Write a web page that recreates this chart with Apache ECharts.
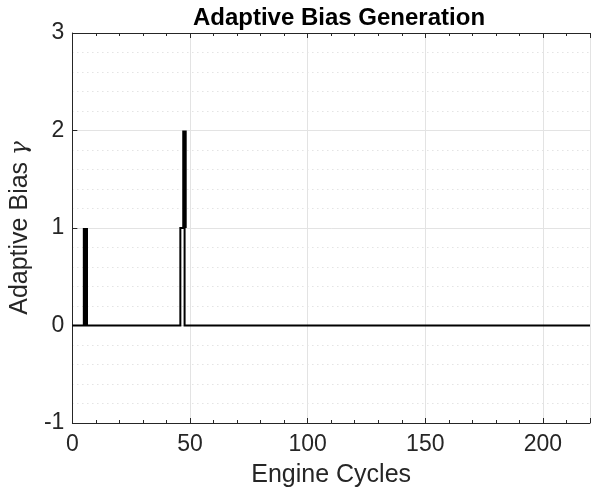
<!DOCTYPE html>
<html>
<head>
<meta charset="utf-8">
<script src="https://cdn.jsdelivr.net/npm/echarts@6/dist/echarts.min.js"></script>
<style>
html,body{margin:0;padding:0;background:#fff;}
#chart{width:593px;height:493px;}
</style>
</head>
<body>
<div id="chart"></div>
<script>
// step outline of the bias signal
var cycles = [0, 45.9, 45.9, 47.7, 47.7, 220];
var bias   = [0, 0,    1,    1,    0,    0];

// regions where bias switches fast (drawn as solid blocks)
var burstStart = [4.45, 46.7];
var burstEnd   = [6.65, 48.6];
var burstLow   = [0, 1];
var burstHigh  = [1, 2];

var xTicks = [0, 50, 100, 150, 200];
var yTicks = [-1, 0, 1, 2, 3];

var font = 'Liberation Sans';
var axisColor = '#262626';

var lineData = cycles.map(function(c, i){ return [c, bias[i]]; });
var burstData = burstStart.map(function(s, i){ return [s, burstEnd[i], burstLow[i], burstHigh[i]]; });

var chart = echarts.init(document.getElementById('chart'));

var option = {
	animation: false,
	backgroundColor: '#fff',
	title: {
		text: 'Adaptive Bias Generation',
		left: 334,
		top: 1,
		textAlign: 'center',
		textStyle: {fontFamily: font, fontWeight: 'bold', fontSize: 24, color: '#000'}
	},
	grid: {left: 70, right: -7, top: 33, bottom: 69, containLabel: false},
	xAxis: [{
		type: 'value',
		min: 0, max: 220, interval: 50,
		name: 'Engine Cycles',
		nameLocation: 'middle',
		nameGap: 40,
		nameTextStyle: {fontFamily: font, fontSize: 25, color: axisColor},
		axisLine: {show: true, onZero: false, lineStyle: {color: axisColor, width: 1}},
		axisTick: {show: true, inside: true, length: 5, lineStyle: {color: axisColor}},
		minorTick: {show: true, splitNumber: 5, length: 3, lineStyle: {color: axisColor}},
		axisLabel: {
			fontFamily: font, fontSize: 23, color: axisColor, margin: 10,
			formatter: function(v){ return xTicks.indexOf(v) >= 0 ? String(v) : ''; }
		},
		splitLine: {show: true, lineStyle: {color: '#e3e3e3', width: 1}},
		minorSplitLine: {show: false}
	}, {
		type: 'value',
		position: 'top',
		min: 0, max: 220, interval: 50,
		axisLine: {show: true, onZero: false, lineStyle: {color: axisColor, width: 1}},
		axisTick: {show: true, inside: true, length: 5, lineStyle: {color: axisColor}},
		minorTick: {show: true, splitNumber: 5, length: 3, lineStyle: {color: axisColor}},
		axisLabel: {show: false},
		splitLine: {show: false}
	}],
	yAxis: {
		type: 'value',
		min: -1, max: 3, interval: 1,
		name: 'Adaptive Bias {g|γ}',
		nameLocation: 'middle',
		nameGap: 36,
		nameTextStyle: {
			fontFamily: font, fontSize: 25, color: axisColor,
			rich: {g: {fontFamily: 'DejaVu Serif', fontStyle: 'italic', fontSize: 23, color: axisColor}}
		},
		axisLine: {show: true, onZero: false, lineStyle: {color: axisColor, width: 1}},
		axisTick: {show: true, inside: true, length: 5, lineStyle: {color: axisColor}},
		axisLabel: {
			fontFamily: font, fontSize: 23, color: axisColor, margin: 8,
			formatter: function(v){ return yTicks.indexOf(v) >= 0 ? String(v) : ''; }
		},
		splitLine: {show: true, lineStyle: {color: '#e3e3e3', width: 1}},
		minorTick: {show: false, splitNumber: 5},
		minorSplitLine: {show: true, lineStyle: {color: '#d6d6d6', width: 1, type: [1, 4]}}
	},
	series: [{
		type: 'line',
		data: lineData,
		showSymbol: false,
		symbol: 'none',
		lineStyle: {color: '#000', width: 2, cap: 'butt', join: 'miter'},
		z: 3
	}, {
		type: 'custom',
		data: burstData,
		renderItem: function(params, api){
			var p0 = api.coord([api.value(0), api.value(3)]);
			var p1 = api.coord([api.value(1), api.value(2)]);
			return {
				type: 'rect',
				shape: {x: p0[0], y: p0[1], width: p1[0] - p0[0], height: p1[1] - p0[1]},
				style: {fill: '#000'}
			};
		},
		z: 4
	}]
};

chart.setOption(option);
</script>
</body>
</html>
